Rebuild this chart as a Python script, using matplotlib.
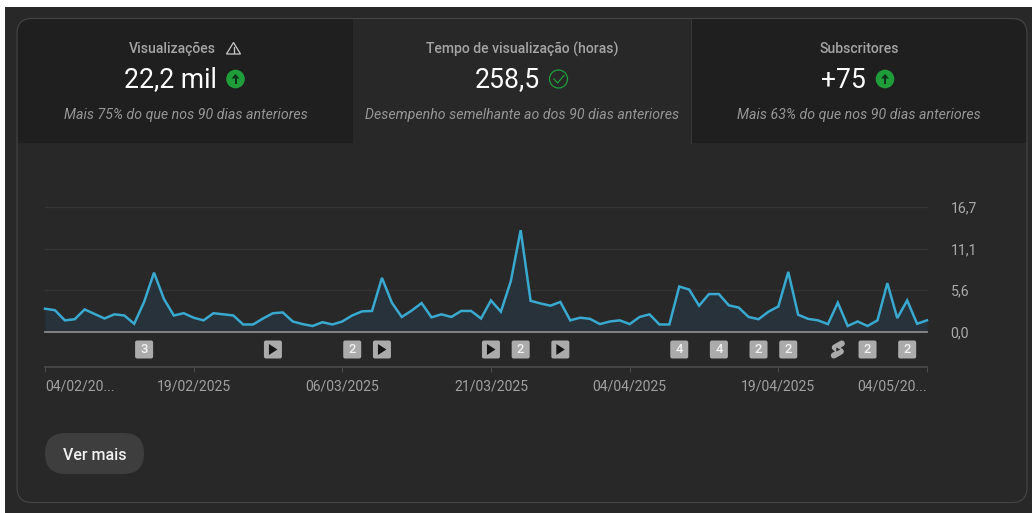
import numpy as np
import pandas as pd
import matplotlib
matplotlib.use("Agg")
import matplotlib.pyplot as plt
from matplotlib.patches import FancyBboxPatch, Rectangle, Circle, Polygon

plt.rcParams['font.family'] = ['Roboto', 'DejaVu Sans']

# hours per day
hours = [3.1, 2.9, 1.55, 1.7, 3.0, 2.4, 1.8, 2.35, 2.2, 1.1,
         4.0, 7.9, 4.4, 2.2, 2.5, 1.9, 1.55, 2.5, 2.35, 2.2,
         1.0, 1.0, 1.8, 2.5, 2.6, 1.4, 1.05, 0.8, 1.3, 1.0,
         1.4, 2.2, 2.75, 2.8, 7.2, 3.9, 2.0, 2.85, 3.85, 1.95,
         2.35, 2.0, 2.8, 2.8, 1.8, 4.2, 2.7, 6.75, 13.55, 4.15,
         3.8, 3.5, 4.0, 1.55, 1.9, 1.75, 1.05, 1.4, 1.55, 1.05,
         2.0, 2.35, 1.0, 1.0, 6.05, 5.65, 3.5, 5.05, 5.05, 3.55,
         3.25, 2.0, 1.7, 2.7, 3.4, 8.0, 2.3, 1.75, 1.55, 1.05,
         3.9, 0.8, 1.4, 0.8, 1.55, 6.5, 1.85, 4.2, 1.1, 1.55]
dates = pd.date_range("2025-02-04", periods=len(hours))

y_ticks = [0.0, 5.6, 11.1, 16.7]
y_labels = ["0,0", "5,6", "11,1", "16,7"]
x_ticks = ["2025-02-04", "2025-02-19", "2025-03-06", "2025-03-21",
           "2025-04-04", "2025-04-19", "2025-05-04"]
x_labels = ["04/02/20...", "19/02/2025", "06/03/2025", "21/03/2025",
            "04/04/2025", "19/04/2025", "04/05/20..."]

badge_days = [10, 23, 31, 34, 45, 48, 52, 64, 68, 72, 75, 80, 83, 87]
badge_kinds = ["3", "play", "2", "play", "play", "2", "play",
               "4", "4", "2", "2", "shorts", "2", "2"]

card_titles = ["Visualizações", "Tempo de visualização (horas)", "Subscritores"]
card_values = ["22,2 mil", "258,5", "+75"]
card_notes = ["Mais 75% do que nos 90 dias anteriores",
              "Desempenho semelhante ao dos 90 dias anteriores",
              "Mais 63% do que nos 90 dias anteriores"]

W, H = 1032, 513
BG = "#282828"
DARK = "#1f1f1f"
BORDER = "#434343"
GREY = "#aaaaaa"
GREEN = "#1f9d3a"

fig = plt.figure(figsize=(W / 100, H / 100), dpi=100, facecolor="white")

# page layer, in pixels
bg = fig.add_axes([0, 0, 1, 1])
bg.set_xlim(0, W)
bg.set_ylim(H, 0)
bg.axis("off")
bg.add_patch(Rectangle((5, 7), W - 5, H - 7, fc=BG, ec="none"))

card = FancyBboxPatch((17, 18.5), 1010, 484, boxstyle="round,pad=0,rounding_size=15",
                      fc=BG, ec="none")
bg.add_patch(card)
for x0, x1 in [(17, 353), (691, 1027)]:
    r = Rectangle((x0, 18.5), x1 - x0, 124.5, fc=DARK, ec="none")
    bg.add_patch(r)
    r.set_clip_path(card)
bg.add_patch(FancyBboxPatch((17, 18.5), 1010, 484, boxstyle="round,pad=0,rounding_size=15",
                            fc="none", ec=BORDER, lw=0.9))
bg.plot([691, 691], [19, 143], color="#383838", lw=0.7)

centers = [185.5, 522, 859]
value_x = [170.5, 507.5, 843.5]
for cx, vx, title, value, note in zip(centers, value_x, card_titles, card_values, card_notes):
    tx = cx - 13.5 if title == "Visualizações" else cx
    bg.text(tx, 49, title, color="#a4a4a4", fontsize=10.1, fontweight="medium",
            ha="center", va="center")
    bg.text(vx, 80, value, color="white", fontsize=19.1, ha="center", va="center")
    bg.text(cx, 114.5, note, color="#969696", fontsize=10.2, style="italic",
            ha="center", va="center")


def up_icon(x, y):
    bg.add_patch(Circle((x, y), 9.3, fc=GREEN, ec="none"))
    bg.add_patch(Polygon([(x - 4, y - 0.5), (x, y - 5), (x + 4, y - 0.5)], fc="#10301a", ec="none"))
    bg.plot([x, x], [y - 1, y + 4.5], color="#10301a", lw=1.4, solid_capstyle="butt")


up_icon(235.5, 79)
up_icon(885, 79)

# warning triangle next to the first title
bg.add_patch(Polygon([(233.5, 42.5), (226.5, 54), (240.5, 54)], fc="none", ec="#c8c8c8", lw=0.9))
bg.plot([233.5, 233.5], [46.5, 50.5], color="#c8c8c8", lw=0.9)
bg.plot([233.5, 233.5], [51.5, 52.5], color="#c8c8c8", lw=0.9)

# check icon next to the second value
bg.add_patch(Circle((558.5, 79), 9, fc="none", ec=GREEN, lw=0.9))
bg.plot([554, 557.5, 564], [79, 83, 75.5], color=GREEN, lw=0.9)

# button
bg.add_patch(FancyBboxPatch((45, 433), 99, 41, boxstyle="round,pad=0,rounding_size=20.5",
                            fc="#3e3e3e", ec="none"))
bg.text(94.5, 455, "Ver mais", color="#f1f1f1", fontsize=11.5, fontweight="medium",
        ha="center", va="center")

# chart
ax = fig.add_axes([45 / W, 1 - 332 / H, 882 / W, 125.5 / H])
ax.patch.set_alpha(0)
ax.set_xlim(dates[0], dates[-1])
ax.set_ylim(0, 16.7)
ax.fill_between(dates, hours, 0, color="#27323a", lw=0)
ax.plot(dates, hours, color="#3aa9cf", lw=1.8, solid_joinstyle="miter", clip_on=False, zorder=3)
ax.axhline(0, color="#8a8a8a", lw=1.3, zorder=4, clip_on=False)
for v in y_ticks[1:]:
    ax.axhline(v, color="#353535", lw=1.0, zorder=0, clip_on=False)

for name in ["top", "left", "right"]:
    ax.spines[name].set_visible(False)
ax.spines["bottom"].set_position(("outward", 25))
ax.spines["bottom"].set_color("#4c4c4c")
ax.spines["bottom"].set_linewidth(1.2)

ax.yaxis.tick_right()
ax.set_yticks(y_ticks, y_labels)
ax.tick_params(axis="y", length=0, pad=17, labelcolor=GREY, labelsize=10.2)
ax.set_xticks(pd.to_datetime(x_ticks), x_labels)
ax.tick_params(axis="x", length=3.5, width=0.8, color="#4c4c4c", pad=6,
               labelcolor="#a0a0a0", labelsize=10.1)
tick_labels = ax.get_xticklabels()
tick_labels[0].set_ha("left")
tick_labels[-1].set_ha("right")

# row of upload badges under the line
to_bg = ax.transData + bg.transData.inverted()
badge_y = 349.5
for day, kind in zip(badge_days, badge_kinds):
    bx = to_bg.transform((matplotlib.dates.date2num(dates[day]), 0))[0]
    if kind == "shorts":
        bg.plot([bx + 4, bx - 3, bx + 3, bx - 4], [badge_y - 6, badge_y - 2, badge_y + 2, badge_y + 6],
                color=GREY, lw=4.4, solid_capstyle="round", solid_joinstyle="round")
        bg.add_patch(Polygon([(bx - 1.5, badge_y - 2), (bx + 2.5, badge_y), (bx - 1.5, badge_y + 2)],
                             fc=BG, ec="none", zorder=5))
        continue
    bg.add_patch(FancyBboxPatch((bx - 9, badge_y - 9), 18, 18, boxstyle="round,pad=0,rounding_size=2",
                                fc="#ababab", ec="none"))
    if kind == "play":
        bg.add_patch(Polygon([(bx - 4, badge_y - 5.5), (bx + 4.5, badge_y), (bx - 4, badge_y + 5.5)],
                             fc="#161616", ec="none"))
    else:
        bg.text(bx, badge_y, kind, color="#f2f2f2", fontsize=9.4, fontweight="medium",
                ha="center", va="center")

fig.savefig("out.png", dpi=100, facecolor="white")
